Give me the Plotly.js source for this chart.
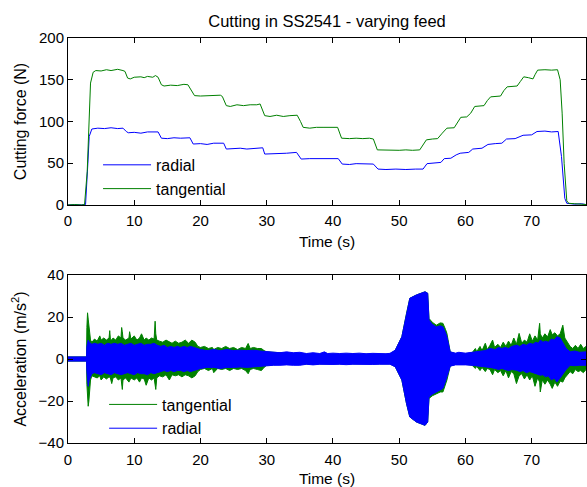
<!DOCTYPE html>
<html>
<head>
<meta charset="utf-8">
<script src="https://cdn.plot.ly/plotly-3.0.1.min.js"></script>
<style>html,body{margin:0;padding:0;background:#fff;}#chart{width:587px;height:487px;}</style>
</head>
<body>
<div id="chart"></div>
<script>
// ---- Top panel: cutting force (N) vs time (s) ----
const radialForceTime = [0,1,2,2.65,3.0,3.2,3.6,4.5,5.5,6.5,7.5,8.3,8.8,9.1,10,11,12,13,13.6,14.1,15,16,17,18.4,18.9,20,21,22,23.5,23.9,25,26,27,28,29.4,29.7,31,32,33,34.5,35.2,36.5,37.5,38.5,39.5,40.8,41.4,42.5,43.5,44.5,46.1,46.8,48,49.5,51,52.5,53.6,54.2,55.5,56.3,56.8,57.8,58.6,59.2,60.5,61.1,62.5,63.4,64.5,65.5,66.2,67.5,68.7,70,70.8,72,73,74,74.5,75,75.3,76.5,77.5,78.2];
const radialForce = [0,0.5,0,0.5,50,82,91,92,91.5,92.5,91.5,92,88,86.5,87,86,87.5,87,87.5,80,79.5,80.5,80,80.5,73,73.5,72.5,74,74,67,67.5,68,67,68,68.5,61,61.5,61,62,63,55,55.5,55.5,56,55.5,55.5,49,48.5,49.5,49,49,43,42.5,43,42.5,43,43,49.5,50,51,55.5,56,60,62,63,67,68,72.5,73.5,74,79,79.5,83.5,84,88,88.5,87.5,88,58,8,2,1,1.5,0.5];

const tangForceTime = [0,1,2,2.5,2.9,3.2,3.4,3.8,4.2,5,5.8,6.5,7.5,8.3,8.6,9.0,9.4,10,11,11.5,12,12.8,13.2,13.6,14.1,14.5,15.5,16.5,17.5,18.1,18.6,19.1,20,21,22,23,23.3,23.9,24.5,25.5,26.5,27.5,28.5,29,29.7,30.5,31.5,32.5,33.5,34.6,35.1,35.5,36.5,37.5,38.5,39.5,40.7,41.3,42.5,43.5,44.5,45.5,46.1,46.7,48,49,50,51,52,53.1,53.6,54.1,55,55.8,56.5,57.2,58.3,58.8,59.3,60.2,60.8,61.4,62.8,63.3,63.8,65.3,65.8,66.3,67.8,68.3,68.8,69.5,70.2,70.5,70.9,72,73,73.9,74.3,74.6,74.9,75.3,75.6,76.5,77.5,78.2];
const tangForce = [0,0.5,0,0.5,40,120,146,159,161,160.5,162,161,162.5,161,160,152,151,153,153.5,152.5,154,153,155,153,144,142.5,143.5,143,144.5,144,138,131,130.5,131,131,131.5,130,119,118,120,119,120,120,121,107,106,107.5,106,107,107.5,100,93,92,93,93,93,93,80,79.5,80,79.5,80,79,66,65.5,66,65.5,66,65.5,66,72,78,79,79.5,86,92,92.5,99,105,105.5,110,118,119,125,129.5,130.5,137,141.5,142.5,148,153.5,152.5,151,156,161.5,162,161.5,162,150,110,50,5,2,1.5,1,0.5];

// ---- Bottom panel: acceleration envelopes (m/s^2) vs time (s) ----
const tangAccTime = [0,2.8,2.85,2.95,3.05,3.15,3.25,3.4,3.6,4.0,4.4,4.8,5.0,5.4,5.8,6.2,6.3,6.4,6.6,6.8,7.2,7.6,8.0,8.1,8.2,8.3,8.7,9.2,9.3,9.5,10.0,10.4,10.8,11.1,11.5,11.8,12.2,12.6,13.0,13.15,13.25,13.4,13.8,14.3,14.8,15.3,15.7,16.2,16.7,17.2,17.7,18.2,18.7,19.2,19.6,20.0,20.6,21.2,21.8,22.0,22.6,23.2,23.8,24.4,25.0,25.6,26.2,26.8,27.2,27.5,28.0,28.6,29.2,29.6,30,32,36,40,44,48,48.6,49.4,50.4,51.1,51.6,52.6,53.9,54.3,54.4,54.5,55.0,55.6,56.2,56.6,57.0,57.2,57.7,58.5,60,61.0,61.5,61.7,62.2,62.5,63.0,63.3,63.7,64.1,64.4,64.9,65.3,65.7,66.1,66.5,66.9,67.3,67.7,68.1,68.5,68.9,69.3,69.7,70.1,70.5,70.9,71.2,71.3,71.6,72.0,72.4,72.8,73.1,73.5,73.9,74.3,74.7,75.0,75.4,75.8,76.2,76.6,77.0,77.4,77.8,78.2];
const tangAccUpper = [1,1,15,22,19,16,12,9,8,9.5,8.5,11,9,10,9,10,13.5,9.5,9,10,9,11,10,15,13,10,9,10,13,9.5,11,9,10,12,9,10,9,10,9.5,18,12,9,8.5,8,9,8,7.5,8.5,7.5,8,9,7.5,9,8,6,5.5,6,5,5.5,4.5,5.5,5,6,5,5.5,4.5,5.5,5,7.4,5,5.5,5,5,4,3.4,3,2.3,2.3,2.3,2.3,2.3,4.2,10.6,21.7,28.9,30.5,32,31.3,20,19.3,17.5,16.1,17.2,17,14,12.2,3.4,2.5,2.5,3,5,3.5,6,4,7.5,4.5,6.5,9,5.5,7,5.5,8,6,8.5,6.5,10,7,12.2,7.5,9,8,12,8.5,11,9,17,12,10,12,10.5,14,11.5,12.5,11,12,16.1,10,8,6,5,6.5,5,7,5,6];
const tangAccLower = [-1,-1,-12,-18,-22.5,-20,-15,-10,-8,-8.5,-9,-8,-10,-8.5,-9.5,-8.5,-9,-9,-11.7,-9,-8.5,-10,-9,-12,-14.5,-10,-9,-11,-10,-9,-10,-9,-11,-9,-9.5,-12.5,-9,-10,-9,-12,-14.5,-9,-8,-8.5,-7.5,-10,-7.5,-8,-7.5,-8.5,-7.5,-8,-9,-8,-6,-5,-4.5,-5.5,-4.5,-6.5,-4.5,-5,-4.5,-5.5,-4.5,-5,-4.5,-5.5,-7,-5,-4.5,-5,-5.5,-4,-3,-2.5,-2.3,-2.3,-2.3,-2.3,-2.3,-3.7,-10,-21.2,-27.6,-30,-31.6,-30,-19,-18.8,-17.5,-16.5,-15.7,-15.7,-12,-10,-3.4,-2.5,-2.5,-3,-4.5,-3.5,-5.5,-4,-6,-4.5,-5,-7.5,-5,-6.5,-5.5,-8,-5.5,-9,-6,-7,-11.7,-8,-7,-9.5,-7.5,-10,-8,-13,-9,-11,-15.7,-10,-12,-10,-12,-14,-11,-13,-10.5,-11,-9,-7.5,-6,-7,-5,-6,-5.5,-6.5,-5];

const radAccTime = [0,2.8,2.85,2.95,3.05,3.2,3.4,3.6,4.0,4.5,5.0,5.5,6.0,6.5,7.0,7.5,8.0,8.5,9.0,9.5,10.0,10.5,11.0,11.5,12.0,12.5,13.0,13.5,14.0,14.5,15.0,15.5,16.0,16.5,17.0,17.5,18.0,18.5,19.0,19.5,20,21,22,23,24,25,26,27,28,29,30,31,32,33,34,35,36,37,38,38.7,39.2,40,41,42,43,44,45,46,47,48,48.6,49.4,50.4,51.1,51.6,52.6,53.9,54.3,54.4,54.5,55.0,55.6,56.2,56.6,57.0,57.2,57.7,58.5,59.0,60,61,62,63,63.7,64.5,65,65.5,66,66.5,67,67.7,68.2,68.7,69.2,69.7,70.2,70.6,71.0,71.3,71.7,72.1,72.5,73.0,73.4,73.8,74.3,74.7,75.2,75.8,76.5,77.2,78.2];
const radAccUpper = [1,1,6,8,9,8,7.5,7,7.5,7,7.5,6.5,7.5,7,7.5,7,7.5,6.5,7,7.5,6.5,7,7.5,6.5,7,7,7.5,6.5,6,6.5,5.5,6,5.5,6,5.5,6,5.5,6,5.5,5,4.5,4,4.5,4,4.5,4,4.2,4,4.2,3.8,3.5,3.4,3,3.4,3,3.2,2.6,3,2.6,3.4,2.6,2.8,2.6,2.8,2.6,2.8,2.5,2.7,2.5,2.5,2.7,4.2,10.6,21.7,28.9,30.5,32,31.3,19,18.5,16.5,15.3,15.8,15.3,12.5,10.6,3.4,2.8,3.2,2.8,3.2,3.5,4,5,4.5,5.5,5,5.5,5,6,6.6,6,7,6.5,7.5,7,8,7.5,9,8,8.5,8,9.5,9,10.6,10,8,5,3.4,3.8,3.2,3.4];
const radAccLower = [-1,-1,-6,-9,-13,-10,-8,-7,-6.5,-7,-7.5,-6.5,-7,-7.5,-6.5,-7,-7.5,-7,-6.5,-7,-7.5,-6.5,-7,-7,-7.5,-6.5,-7,-6.5,-6,-5.5,-6,-5.5,-6,-5.5,-5.5,-6,-5.5,-6,-5.5,-5,-4.5,-4,-4,-4.5,-4,-4,-3.8,-4,-3.7,-3.5,-3,-3,-3,-2.8,-3,-3,-2.5,-2.8,-2.5,-2.6,-2.5,-2.6,-2.5,-2.7,-2.5,-2.6,-2.5,-2.6,-2.5,-2.5,-2.5,-3.7,-10,-21.2,-27.6,-30,-31.6,-30,-18.5,-18,-16.8,-15.7,-14.5,-14,-10.5,-8.5,-3.4,-2.8,-2.7,-2.8,-3,-3.3,-3.5,-4,-4.5,-5,-4.5,-5,-5.5,-5,-5.3,-6,-5.5,-6.5,-6,-6.5,-7,-7.5,-7.7,-7.5,-8.5,-8,-10,-9,-10.9,-9,-7,-5,-3,-3.2,-3,-3];

const xTicks = [0,10,20,30,40,50,60,70];
const forceTicks = [0,50,100,150,200];
const accTicks = [-40,-20,0,20,40];

const BLUE = '#0000ff', GREEN = '#008000';
const FONT = 'Liberation Sans, Arial, sans-serif';

const traces = [
  {x: radialForceTime, y: radialForce, type:'scatter', mode:'lines', name:'radial',
   line:{color:BLUE, width:1}, xaxis:'x', yaxis:'y', legend:'legend'},
  {x: tangForceTime, y: tangForce, type:'scatter', mode:'lines', name:'tangential',
   line:{color:GREEN, width:1}, xaxis:'x', yaxis:'y', legend:'legend'},
  {x: tangAccTime, y: tangAccUpper, type:'scatter', mode:'lines', name:'tangential',
   line:{color:GREEN, width:1}, xaxis:'x2', yaxis:'y2', legend:'legend2'},
  {x: tangAccTime, y: tangAccLower, type:'scatter', mode:'lines', showlegend:false,
   line:{color:GREEN, width:1}, fill:'tonexty', fillcolor:GREEN, xaxis:'x2', yaxis:'y2'},
  {x: radAccTime, y: radAccUpper, type:'scatter', mode:'lines', name:'radial',
   line:{color:BLUE, width:1}, xaxis:'x2', yaxis:'y2', legend:'legend2'},
  {x: radAccTime, y: radAccLower, type:'scatter', mode:'lines', showlegend:false,
   line:{color:BLUE, width:1}, fill:'tonexty', fillcolor:BLUE, xaxis:'x2', yaxis:'y2'}
];

const axisCommon = {
  showline:true, linecolor:'#000', linewidth:1, mirror:'ticks',
  ticks:'inside', ticklen:5, tickcolor:'#000', showgrid:false, zeroline:false,
  tickfont:{family:FONT, size:15, color:'#000'}
};

const layout = {
  width:587, height:487,
  margin:{l:68, r:1, t:38, b:44},
  paper_bgcolor:'#fff', plot_bgcolor:'#fff',
  font:{family:FONT, color:'#000'},
  title:{text:'Cutting in SS2541 - varying feed', font:{family:FONT, size:16.5, color:'#000'},
         x:0.5, xref:'paper', y:0.957, yanchor:'middle'},
  xaxis:Object.assign({}, axisCommon, {domain:[0,1], range:[0,78.2], tickvals:xTicks, anchor:'y',
         ticklabelstandoff:2,
         title:{text:'Time (s)', font:{family:FONT, size:15.5, color:'#000'}, standoff:8}}),
  yaxis:Object.assign({}, axisCommon, {domain:[0.5877,1], range:[0,200], tickvals:forceTicks, anchor:'x',
         title:{text:'Cutting force (N)', font:{family:FONT, size:16, color:'#000'}}}),
  xaxis2:Object.assign({}, axisCommon, {domain:[0,1], range:[0,78.2], tickvals:xTicks, anchor:'y2',
         ticklabelstandoff:3,
         title:{text:'Time (s)', font:{family:FONT, size:15.5, color:'#000'}, standoff:12}}),
  yaxis2:Object.assign({}, axisCommon, {domain:[0,0.4148], range:[-40,40], tickvals:accTicks, anchor:'x2',
         title:{text:'Acceleration (m/s<sup>2</sup>)', font:{family:FONT, size:16, color:'#000'}}}),
  legend:{x:0.058, y:0.657, xanchor:'left', yanchor:'middle', bgcolor:'rgba(0,0,0,0)', borderwidth:0,
          font:{family:FONT, size:16, color:'#000'}, itemwidth:48, tracegroupgap:0, traceorder:'normal'},
  legend2:{x:0.0697, y:0.0654, xanchor:'left', yanchor:'middle', bgcolor:'rgba(0,0,0,0)', borderwidth:0,
          font:{family:FONT, size:16, color:'#000'}, itemwidth:48, tracegroupgap:0, traceorder:'normal'},
  showlegend:true
};

Plotly.newPlot('chart', traces, layout, {displayModeBar:false, staticPlot:true});
</script>
</body>
</html>
